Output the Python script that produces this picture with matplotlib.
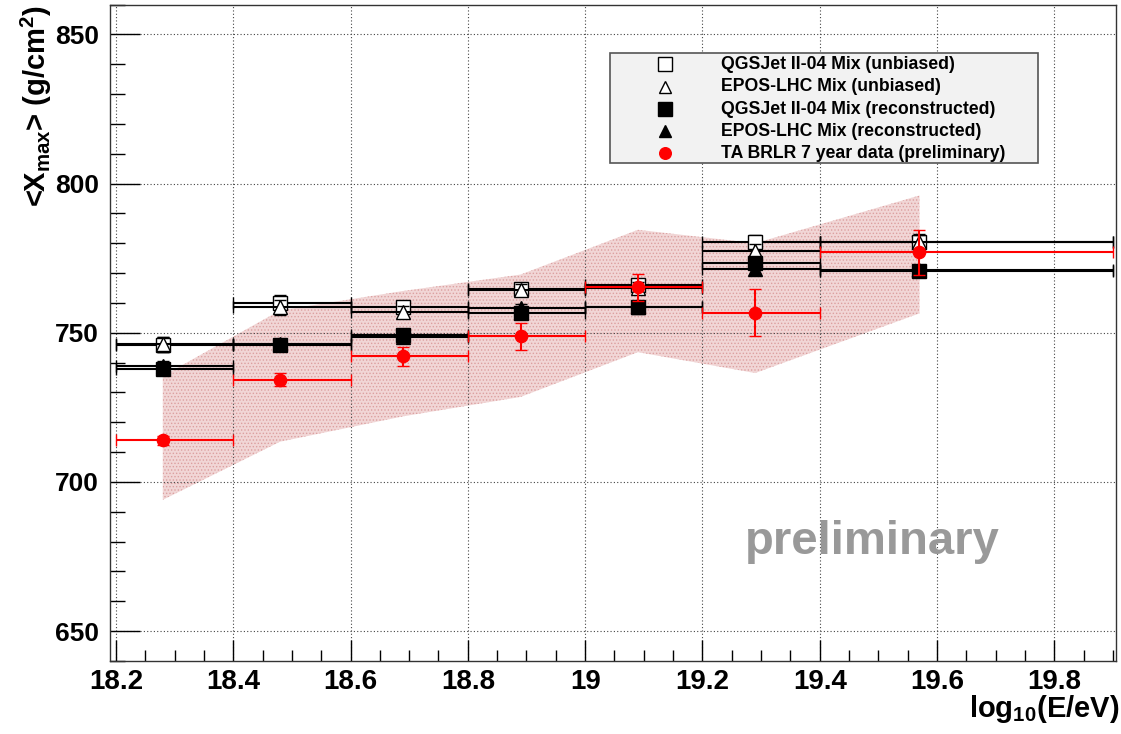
import matplotlib
matplotlib.use("Agg")
import matplotlib.pyplot as plt
from matplotlib.patches import Rectangle
from matplotlib.ticker import MultipleLocator

plt.rcParams['font.family'] = ['Liberation Sans', 'DejaVu Sans']
plt.rcParams['font.weight'] = 'bold'
plt.rcParams['mathtext.fontset'] = 'custom'
plt.rcParams['mathtext.rm'] = 'Liberation Sans:bold'
plt.rcParams['mathtext.it'] = 'Liberation Sans:bold'
plt.rcParams['mathtext.bf'] = 'Liberation Sans:bold'
plt.rcParams['mathtext.default'] = 'bf'
plt.rcParams['hatch.linewidth'] = 0.6

# Energy bins (log10(E/eV)) and mean energy per bin
bin_lo = [18.2, 18.4, 18.6, 18.8, 19.0, 19.2, 19.4]
bin_hi = [18.4, 18.6, 18.8, 19.0, 19.2, 19.4, 19.9]
log_e = [18.28, 18.48, 18.69, 18.89, 19.09, 19.29, 19.57]

# <Xmax> in g/cm^2
qgs_unbiased = [746.0, 760.0, 758.5, 764.5, 766.0, 780.3, 780.5]
qgs_unbiased_err = [2.5, 2.5, 2.0, 2.0, 2.0, 2.5, 2.5]
epos_unbiased = [746.2, 758.5, 757.0, 764.3, 765.0, 777.4, 780.3]
epos_unbiased_err = [2.5, 2.5, 2.0, 2.0, 2.0, 2.5, 2.5]
qgs_rec = [738.0, 746.0, 749.2, 756.6, 758.5, 773.3, 770.8]
qgs_rec_err = [1.5, 1.5, 1.5, 1.5, 1.5, 1.5, 1.5]
epos_rec = [739.0, 746.2, 748.5, 758.3, 758.6, 771.2, 770.9]
epos_rec_err = [1.5, 1.5, 1.5, 1.5, 1.5, 1.5, 1.5]
ta_data = [714.0, 734.3, 742.1, 748.8, 765.3, 756.7, 776.9]
ta_err = [1.5, 2.2, 3.2, 4.5, 4.5, 7.8, 7.5]
ta_sys_hi = [735.5, 757.5, 764.0, 769.5, 784.5, 780.0, 796.0]
ta_sys_lo = [694.0, 713.5, 722.0, 728.5, 743.5, 736.5, 756.5]

legend_labels = [
    "QGSJet II-04 Mix (unbiased)",
    "EPOS-LHC Mix (unbiased)",
    "QGSJet II-04 Mix (reconstructed)",
    "EPOS-LHC Mix (reconstructed)",
    "TA BRLR 7 year data (preliminary)",
]

fig = plt.figure(figsize=(11.21, 7.34), dpi=100)
ax = fig.add_axes([110 / 1121, 73 / 734, 1006 / 1121, 656.5 / 734])

xerr = [[c - lo for c, lo in zip(log_e, bin_lo)],
        [hi - c for c, hi in zip(log_e, bin_hi)]]

# systematic band of the TA measurement (dotted fill)
ax.fill_between(log_e, ta_sys_lo, ta_sys_hi, facecolor='#f1d6d6',
                edgecolor='#dca0a0', hatch='.....', linewidth=0, zorder=0.2)

series = [
    (qgs_unbiased, qgs_unbiased_err, 's', 'white', 'black', 10.0, 3.0),
    (epos_unbiased, epos_unbiased_err, '^', 'white', 'black', 9.5, 3.1),
    (qgs_rec, qgs_rec_err, 's', 'black', 'black', 10.0, 3.2),
    (epos_rec, epos_rec_err, '^', 'black', 'black', 9.5, 3.3),
    (ta_data, ta_err, 'o', 'red', 'red', 8.8, 3.4),
]
styles = []
for vals, errs, mk, fc, ec, ms, z in series:
    ax.errorbar(log_e, vals, yerr=errs, xerr=xerr, fmt=mk, ms=ms,
                mfc=fc, mec=ec, mew=1.0, ecolor=ec, elinewidth=1.5,
                capsize=4, capthick=1.5, zorder=z)
    styles.append((mk, fc, ec, ms))

ax.set_xlim(18.19, 19.905)
ax.set_ylim(640, 860)
ax.xaxis.set_major_locator(MultipleLocator(0.2))
ax.xaxis.set_minor_locator(MultipleLocator(0.05))
ax.yaxis.set_major_locator(MultipleLocator(50))
ax.yaxis.set_minor_locator(MultipleLocator(10))
ax.set_xticks([18.2, 18.4, 18.6, 18.8, 19.0, 19.2, 19.4, 19.6, 19.8])
ax.set_xticklabels(["18.2", "18.4", "18.6", "18.8", "19", "19.2", "19.4", "19.6", "19.8"])

ax.set_axisbelow(True)
ax.grid(True, which='major', linestyle=(0, (1, 2)), color='#444444', linewidth=0.8)

ax.tick_params(axis='x', which='major', direction='in', length=15, width=1,
               labelsize=20, pad=5.5, top=False)
ax.tick_params(axis='x', which='minor', direction='in', length=8, width=1, top=False)
ax.tick_params(axis='y', which='major', direction='in', length=21.5, width=1,
               labelsize=19, pad=8, right=False)
ax.tick_params(axis='y', which='minor', direction='in', length=11, width=1, right=False)
for s in ax.spines.values():
    s.set_color('#333333')
    s.set_linewidth(1.0)

fig.text(1120 / 1121, 1 - 717 / 734, r"log$_{10}$(E/eV)", ha='right', va='baseline',
         fontsize=21, fontweight='bold')
fig.text(36 / 1121, 1 - 5 / 734, r"<X$_{max}$> (g/cm$^{2}$)", rotation=90,
         ha='center', va='top', fontsize=21, fontweight='bold')

ax.text(19.272, 675.8, "preliminary", color='#999999', fontsize=34,
        fontweight='bold', ha='left', va='baseline')

# legend box
ax.add_patch(Rectangle((0.497, 0.7586), 0.4255, 0.1674, transform=ax.transAxes,
                       facecolor='#f2f2f2', edgecolor='#555555', lw=1.2, zorder=5))
rows_y = [0.9089, 0.8748, 0.8408, 0.8068, 0.7733]
for (mk, fc, ec, ms), label, yy in zip(styles, legend_labels, rows_y):
    ax.plot([0.5517], [yy], marker=mk, ms=ms * 0.95, mfc=fc, mec=ec, mew=1.0,
            ls='none', transform=ax.transAxes, zorder=6, clip_on=False)
    ax.text(0.6074, yy, label, transform=ax.transAxes, fontsize=12.7,
            fontweight='bold', ha='left', va='center', zorder=6)

fig.savefig("out.png", dpi=100)
